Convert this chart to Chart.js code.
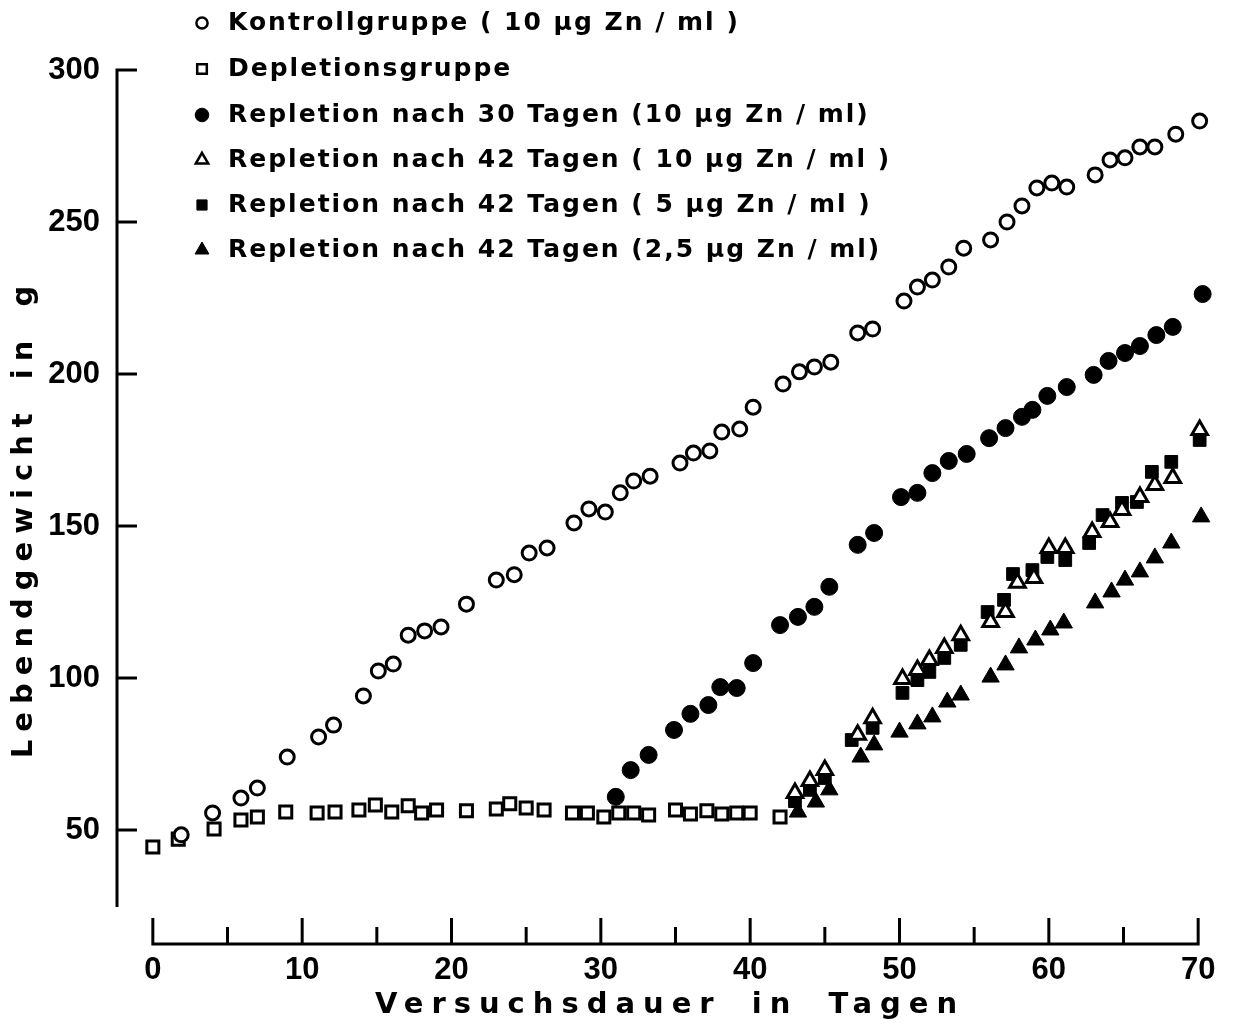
<!DOCTYPE html>
<html>
<head>
<meta charset="utf-8">
<title>Lebendgewicht</title>
<script src="https://cdn.jsdelivr.net/npm/chart.js@4/dist/chart.umd.min.js"></script>
<style>
  html, body { margin: 0; padding: 0; background: #fff; }
  #myChart { display: block; }
</style>
</head>
<body>
<canvas id="myChart" width="1236" height="1029"></canvas>
<script>
// Werte
var kontrollTage = [1.9, 4.0, 5.9, 7.0, 9.0, 11.1, 12.1, 14.1, 15.1, 16.1, 17.1, 18.2, 19.3, 21.0, 23.0, 24.2, 25.2, 26.4, 28.2, 29.2, 30.3, 31.3, 32.2, 33.3, 35.3, 36.2, 37.3, 38.1, 39.3, 40.2, 42.2, 43.3, 44.3, 45.4, 47.2, 48.2, 50.3, 51.2, 52.2, 53.3, 54.3, 56.1, 57.2, 58.2, 59.2, 60.2, 61.2, 63.1, 64.1, 65.1, 66.1, 67.1, 68.5, 70.1];
var kontrollGewicht = [48.4, 55.6, 60.5, 63.8, 74.0, 80.6, 84.5, 94.1, 102.3, 104.6, 114.1, 115.5, 116.8, 124.3, 132.2, 134.0, 141.1, 142.8, 151.0, 155.6, 154.6, 160.9, 164.8, 166.4, 170.7, 174.0, 174.7, 180.9, 181.9, 189.1, 196.7, 200.7, 202.3, 203.9, 213.5, 214.8, 224.0, 228.6, 230.9, 235.2, 241.4, 244.1, 250.0, 255.3, 261.2, 262.8, 261.5, 265.5, 270.4, 271.1, 274.7, 274.7, 278.9, 283.2];

var depletionTage = [0, 1.7, 4.1, 5.9, 7.0, 8.9, 11.0, 12.2, 13.8, 14.9, 16.0, 17.1, 18.0, 19.0, 21.0, 23.0, 23.9, 25.0, 26.2, 28.1, 29.1, 30.2, 31.2, 32.2, 33.2, 35.0, 36.0, 37.1, 38.1, 39.1, 40.0, 42.0];
var depletionGewicht = [44.4, 47.0, 50.3, 53.3, 54.3, 55.9, 55.6, 55.9, 56.6, 58.2, 55.9, 58.0, 55.6, 56.6, 56.3, 56.9, 58.6, 57.2, 56.6, 55.6, 55.6, 54.3, 55.6, 55.6, 54.9, 56.6, 55.3, 56.3, 55.3, 55.6, 55.6, 54.3];

var rep30Tage = [31.0, 32.0, 33.2, 34.9, 36.0, 37.2, 38.0, 39.1, 40.2, 42.0, 43.2, 44.3, 45.3, 47.2, 48.3, 50.1, 51.2, 52.2, 53.3, 54.5, 56.0, 57.1, 58.2, 58.9, 59.9, 61.2, 63.0, 64.0, 65.1, 66.1, 67.2, 68.3, 70.3];
var rep30Gewicht = [60.9, 69.7, 74.7, 82.9, 88.2, 91.1, 97.0, 96.7, 104.9, 117.4, 120.1, 123.4, 130.0, 143.8, 147.7, 159.5, 160.9, 167.4, 171.4, 173.7, 178.9, 182.2, 185.9, 188.2, 192.8, 195.7, 199.7, 204.3, 206.9, 209.2, 212.8, 215.5, 226.3];

var rep42aTage = [43.0, 44.0, 45.0, 47.2, 48.2, 50.2, 51.2, 52.0, 53.0, 54.1, 56.1, 57.1, 57.9, 59.0, 60.0, 61.1, 62.9, 64.1, 64.9, 66.1, 67.1, 68.3, 70.1];
var rep42aGewicht = [62.2, 66.1, 69.7, 81.3, 86.8, 99.7, 102.6, 105.9, 109.9, 114.1, 118.4, 121.7, 131.3, 132.9, 142.8, 142.8, 148.0, 151.3, 155.3, 159.5, 163.5, 165.8, 181.6];

var rep42bTage = [43.0, 44.0, 45.0, 46.8, 48.2, 50.2, 51.2, 52.0, 53.0, 54.1, 55.9, 57.0, 57.6, 58.9, 59.9, 61.1, 62.7, 63.6, 64.9, 65.9, 66.9, 68.2, 70.1];
var rep42bGewicht = [59.5, 63.2, 67.1, 79.6, 83.6, 95.1, 99.3, 102.0, 106.6, 110.9, 121.7, 125.7, 134.2, 135.5, 139.8, 138.8, 144.4, 153.6, 157.6, 157.9, 167.8, 171.1, 178.3];

var rep42cTage = [43.2, 44.4, 45.3, 47.4, 48.3, 50.0, 51.2, 52.2, 53.2, 54.1, 56.1, 57.1, 58.0, 59.1, 60.1, 61.0, 63.1, 64.2, 65.1, 66.1, 67.1, 68.2, 70.2];
var rep42cGewicht = [55.9, 59.2, 63.2, 74.0, 78.0, 82.2, 84.9, 87.2, 92.1, 94.4, 100.3, 104.3, 109.9, 112.5, 115.8, 118.1, 124.7, 128.3, 132.2, 134.9, 139.5, 144.4, 153.0];

var legendLabels = [
  "Kontrollgruppe ( 10 µg Zn / ml )",
  "Depletionsgruppe",
  "Repletion nach 30 Tagen (10 µg Zn / ml)",
  "Repletion nach 42 Tagen ( 10 µg Zn / ml )",
  "Repletion nach 42 Tagen ( 5 µg Zn / ml )",
  "Repletion nach 42 Tagen (2,5 µg Zn / ml)",
];
var xTickLabels = [0, 10, 20, 30, 40, 50, 60, 70];
var xTickMarks = [0, 5, 10, 15, 20, 25, 30, 35, 40, 45, 50, 55, 60, 65, 70];
var yTicks = [50, 100, 150, 200, 250, 300];
var xTitle = "Versuchsdauer in Tagen";
var yTitle = "Lebendgewicht in g";

function points(xs, ys) {
  var out = [];
  for (var i = 0; i < xs.length; i++) {
    out.push({ x: xs[i], y: ys[i] });
  }
  return out;
}

function drawMarker(c, style, filled, r, x, y) {
  c.beginPath();
  if (style === "circle") {
    c.arc(x, y, r, 0, Math.PI * 2);
  } else if (style === "rect") {
    var s = r * Math.SQRT1_2;
    c.rect(x - s, y - s, 2 * s, 2 * s);
  } else {
    c.moveTo(x, y - r);
    c.lineTo(x + r * 0.866, y + r * 0.5);
    c.lineTo(x - r * 0.866, y + r * 0.5);
    c.closePath();
  }
  c.fillStyle = filled ? "#000" : "#fff";
  c.fill();
  c.lineWidth = filled ? 1 : 2.5;
  c.strokeStyle = "#000";
  c.stroke();
}

var axisPlugin = {
  id: "axisLines",
  afterDraw: function (chart) {
    var c = chart.ctx;
    var xs = chart.scales.x;
    var ys = chart.scales.y;
    var area = chart.chartArea;
    c.save();
    c.strokeStyle = "#000";
    c.lineWidth = 3;

    // y-Achse mit Strichen nach innen
    c.beginPath();
    c.moveTo(area.left, ys.getPixelForValue(300) - 1.5);
    c.lineTo(area.left, ys.getPixelForValue(24.7));
    for (var i = 0; i < yTicks.length; i++) {
      var py = ys.getPixelForValue(yTicks[i]);
      c.moveTo(area.left, py);
      c.lineTo(area.left + 20, py);
    }
    c.stroke();

    // x-Achse, abgesetzt
    c.beginPath();
    c.moveTo(xs.getPixelForValue(0) - 1.5, area.bottom);
    c.lineTo(xs.getPixelForValue(70) + 1.5, area.bottom);
    for (var j = 0; j < xTickMarks.length; j++) {
      var px = xs.getPixelForValue(xTickMarks[j]);
      var len = xTickMarks[j] % 10 === 0 ? 26 : 17;
      c.moveTo(px, area.bottom);
      c.lineTo(px, area.bottom - len);
    }
    c.stroke();

    // Achsentitel
    c.fillStyle = "#000";
    c.font = "bold 29px 'DejaVu Sans'";
    c.textAlign = "center";
    c.textBaseline = "middle";
    c.letterSpacing = "8px";
    c.wordSpacing = "12px";
    c.fillText(xTitle, 670, 1005);

    c.save();
    c.translate(24, 518);
    c.rotate(-Math.PI / 2);
    c.letterSpacing = "8px";
    c.wordSpacing = "8px";
    c.fillText(yTitle, 0, 0);
    c.restore();

    // Legende
    var rows = [23, 69, 115, 160, 205, 250];
    c.font = "bold 25px 'DejaVu Sans'";
    c.textAlign = "left";
    c.letterSpacing = "2px";
    c.wordSpacing = "0px";
    var ds = chart.data.datasets;
    for (var k = 0; k < ds.length; k++) {
      var filled = ds[k].backgroundColor === "#000";
      drawMarker(c, ds[k].pointStyle, filled, ds[k].pointRadius * 0.8, 202, rows[k]);
      c.fillStyle = "#000";
      c.fillText(legendLabels[k], 228, rows[k]);
    }
    c.restore();
  },
};

var ctx = document.getElementById("myChart").getContext("2d");
var myChart = new Chart(ctx, {
  type: "scatter",
  data: {
    datasets: [
      {
        label: legendLabels[0],
        data: points(kontrollTage, kontrollGewicht),
        pointStyle: "circle",
        pointRadius: 7,
        backgroundColor: "#fff",
        borderColor: "#000",
        borderWidth: 3,
      },
      {
        label: legendLabels[1],
        data: points(depletionTage, depletionGewicht),
        pointStyle: "rect",
        pointRadius: 8.5,
        backgroundColor: "#fff",
        borderColor: "#000",
        borderWidth: 3,
      },
      {
        label: legendLabels[2],
        data: points(rep30Tage, rep30Gewicht),
        pointStyle: "circle",
        pointRadius: 8.5,
        backgroundColor: "#000",
        borderColor: "#000",
        borderWidth: 1,
      },
      {
        label: legendLabels[3],
        data: points(rep42aTage, rep42aGewicht),
        pointStyle: "triangle",
        pointRadius: 9,
        backgroundColor: "#fff",
        borderColor: "#000",
        borderWidth: 3,
      },
      {
        label: legendLabels[4],
        data: points(rep42bTage, rep42bGewicht),
        pointStyle: "rect",
        pointRadius: 9,
        backgroundColor: "#000",
        borderColor: "#000",
        borderWidth: 1,
      },
      {
        label: legendLabels[5],
        data: points(rep42cTage, rep42cGewicht),
        pointStyle: "triangle",
        pointRadius: 10,
        backgroundColor: "#000",
        borderColor: "#000",
        borderWidth: 1,
      },
    ],
  },
  options: {
    responsive: false,
    animation: false,
    events: [],
    layout: { padding: { top: 70, right: 6, left: 0, bottom: 0 } },
    scales: {
      x: {
        type: "linear",
        min: -2.4,
        max: 71.73,
        grid: { display: false, drawTicks: false },
        border: { display: false },
        ticks: {
          color: "#000",
          padding: 8,
          font: { family: "'Liberation Sans'", size: 31, weight: "bold" },
        },
        afterBuildTicks: function (scale) {
          scale.ticks = xTickLabels.map(function (v) {
            return { value: v };
          });
        },
        afterFit: function (scale) {
          scale.height = 1029 - 944;
        },
      },
      y: {
        type: "linear",
        min: 12.5,
        max: 300,
        grid: { display: false, drawTicks: false },
        border: { display: false },
        ticks: {
          color: "#000",
          padding: 17,
          font: { family: "'Liberation Sans'", size: 31, weight: "bold" },
        },
        afterBuildTicks: function (scale) {
          scale.ticks = yTicks.map(function (v) {
            return { value: v };
          });
        },
        afterFit: function (scale) {
          scale.width = 117;
        },
      },
    },
    plugins: {
      legend: { display: false },
      tooltip: { enabled: false },
    },
  },
  plugins: [axisPlugin],
});
</script>
</body>
</html>
